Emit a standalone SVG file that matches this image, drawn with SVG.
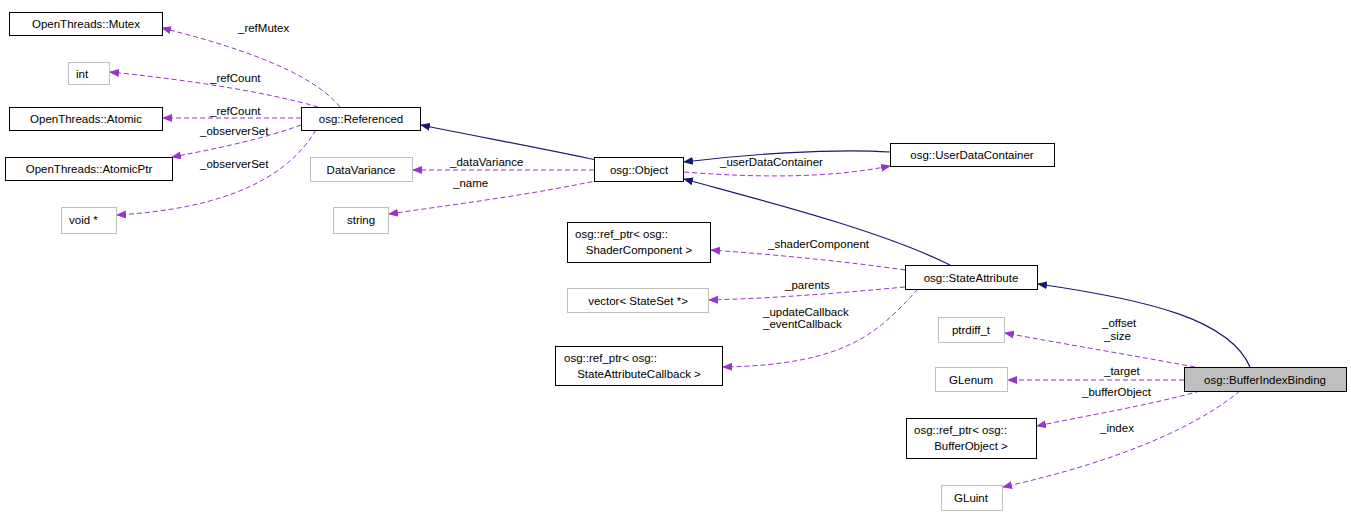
<svg xmlns="http://www.w3.org/2000/svg" width="1351" height="516" viewBox="0 0 1351 516">
<defs>
<marker id="ab" markerWidth="10" markerHeight="8" refX="9" refY="4" orient="auto" markerUnits="userSpaceOnUse"><path d="M0,0 L10,4 L0,8 Z" fill="#191970"/></marker>
<marker id="ap" markerWidth="10" markerHeight="8" refX="9" refY="4" orient="auto" markerUnits="userSpaceOnUse"><path d="M0,0 L10,4 L0,8 Z" fill="#9a32cd"/></marker>
</defs>
<style>
text{font-family:"Liberation Sans",Arial,sans-serif;font-size:11.5px;fill:#000}
.n{fill:#fff;stroke:#000;stroke-width:1}
.g{fill:#fff;stroke:#bfbfbf;stroke-width:1}
.s{fill:#bfbfbf;stroke:#000;stroke-width:1}
.b{fill:none;stroke:#191970;stroke-width:1.2;marker-end:url(#ab)}
.p{fill:none;stroke:#9a32cd;stroke-width:1;stroke-dasharray:5,3;marker-end:url(#ap)}
.m{text-anchor:middle}
</style>
<rect width="1351" height="516" fill="#fff"/>
<g id="edges">
<path class="b" d="M596,160 C540,148 480,137 421,125"/>
<path class="b" d="M890,152 C830,148 740,155 684,162"/>
<path class="b" d="M950,265 C880,230 760,200 684,179"/>
<path class="b" d="M1250,367 C1230,320 1150,300 1038,284"/>
<path class="p" d="M340,107 C310,70 230,45 162,28"/><text x="238" y="32">_refMutex</text>
<path class="p" d="M318,107 C260,90 170,78 110,72"/><text x="210" y="82">_refCount</text>
<path class="p" d="M301,118 L163,118"/><text x="210" y="115">_refCount</text>
<path class="p" d="M301,125 C260,140 210,150 172,157"/><text x="200" y="135">_observerSet</text>
<path class="p" d="M316,130 C280,190 200,210 117,215"/><text x="200" y="168">_observerSet</text>
<path class="p" d="M594,170 L413,170"/><text x="450" y="166">_dataVariance</text>
<path class="p" d="M600,180 C530,195 450,205 389,214"/><text x="453" y="187">_name</text>
<path class="p" d="M684,172 C760,178 830,178 890,166"/><text x="720" y="166">_userDataContainer</text>
<path class="p" d="M905,270 C850,262 780,255 711,250"/><text x="768" y="248">_shaderComponent</text>
<path class="p" d="M905,287 C840,293 780,298 709,300"/><text x="785" y="289">_parents</text>
<path class="p" d="M918,289 C880,330 850,365 723,367"/><text x="763" y="316">_updateCallback</text><text x="763" y="328">_eventCallback</text>
<path class="p" d="M1195,367 C1130,355 1070,345 1005,333"/><text x="1102" y="327">_offset</text><text x="1104" y="340">_size</text>
<path class="p" d="M1184,380 L1008,380"/><text x="1104" y="375">_target</text>
<path class="p" d="M1200,391 C1150,405 1090,415 1037,426"/><text x="1082" y="396">_bufferObject</text>
<path class="p" d="M1240,391 C1180,440 1080,470 1003,487"/><text x="1100" y="432">_index</text>
</g>
<g id="OpenThreads_Mutex"><rect class="n" x="9.5" y="12.5" width="153" height="23"/><text class="m" x="86" y="28">OpenThreads::Mutex</text></g>
<g id="int"><rect class="g" x="68.5" y="62.5" width="41" height="22"/><text x="76" y="78">int</text></g>
<g id="OpenThreads_Atomic"><rect class="n" x="9.5" y="107.5" width="153" height="23"/><text class="m" x="86" y="123">OpenThreads::Atomic</text></g>
<g id="OpenThreads_AtomicPtr"><rect class="n" x="5.5" y="157.5" width="167" height="23"/><text class="m" x="89" y="173">OpenThreads::AtomicPtr</text></g>
<g id="void"><rect class="g" x="61.5" y="207.5" width="55" height="26"/><text x="69" y="224">void *</text></g>
<g id="osg_Referenced"><rect class="n" x="301.5" y="107.5" width="119" height="23"/><text class="m" x="361" y="123">osg::Referenced</text></g>
<g id="DataVariance"><rect class="g" x="310.5" y="157.5" width="102" height="24"/><text class="m" x="361" y="174">DataVariance</text></g>
<g id="string"><rect class="g" x="333.5" y="207.5" width="55" height="26"/><text class="m" x="361" y="224">string</text></g>
<g id="osg_Object"><rect class="n" x="594.5" y="157.5" width="89" height="24"/><text class="m" x="639" y="174">osg::Object</text></g>
<g id="osg_UserDataContainer"><rect class="n" x="890.5" y="143.5" width="164" height="23"/><text class="m" x="972" y="159">osg::UserDataContainer</text></g>
<g id="ShaderComponent"><rect class="n" x="567.5" y="222.5" width="143" height="40"/><text x="575" y="238">osg::ref_ptr&lt; osg::</text><text class="m" x="639" y="254">ShaderComponent &gt;</text></g>
<g id="vector_StateSet"><rect class="g" x="567.5" y="288.5" width="141" height="24"/><text class="m" x="638" y="305">vector&lt; StateSet *&gt;</text></g>
<g id="StateAttributeCallback"><rect class="n" x="555.5" y="346.5" width="167" height="39"/><text x="564" y="362">osg::ref_ptr&lt; osg::</text><text class="m" x="639" y="378">StateAttributeCallback &gt;</text></g>
<g id="osg_StateAttribute"><rect class="n" x="905.5" y="265.5" width="132" height="24"/><text class="m" x="971" y="282">osg::StateAttribute</text></g>
<g id="ptrdiff_t"><rect class="g" x="938.5" y="317.5" width="66" height="25"/><text class="m" x="971" y="334">ptrdiff_t</text></g>
<g id="GLenum"><rect class="g" x="935.5" y="367.5" width="72" height="24"/><text class="m" x="971" y="384">GLenum</text></g>
<g id="osg_BufferIndexBinding"><rect class="s" x="1184.5" y="367.5" width="162" height="24"/><text class="m" x="1265" y="384">osg::BufferIndexBinding</text></g>
<g id="BufferObject"><rect class="n" x="906.5" y="418.5" width="130" height="40"/><text x="914" y="434">osg::ref_ptr&lt; osg::</text><text class="m" x="971" y="450">BufferObject &gt;</text></g>
<g id="GLuint"><rect class="g" x="941.5" y="485.5" width="61" height="25"/><text class="m" x="971" y="502">GLuint</text></g>
</svg>
